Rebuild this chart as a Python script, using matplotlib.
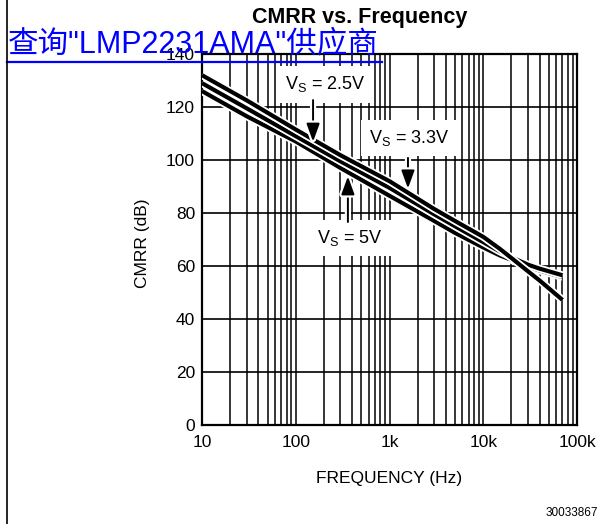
import matplotlib
matplotlib.use("Agg")
import matplotlib.pyplot as plt
import matplotlib.patheffects as pe
from matplotlib.lines import Line2D
from matplotlib.ticker import FixedLocator, NullFormatter
import numpy as np

plt.rcParams['font.family'] = ['Liberation Sans', 'DejaVu Sans']

# CMRR curves (dB) for each supply voltage
freq = [10, 30, 100, 300, 1000, 3000, 5000, 10000, 15000, 20000, 30000, 40000, 70000]
cmrr_33v = [132, 122.5, 111.5, 101.8, 92, 81.5, 77, 71, 66.5, 63, 58, 54.5, 47.2]
cmrr_25v = [129, 119.5, 109, 99.5, 89.5, 79.5, 75, 69, 65.5, 63.3, 60.5, 59, 56.5]
cmrr_5v = [126, 116.5, 107, 97, 86.5, 77, 72.5, 67, 64, 62.3, 59.8, 58.3, 55.8]

x_ticks = [10, 100, 1000, 10000, 100000]
x_ticklabels = ['10', '100', '1k', '10k', '100k']
y_ticks = [0, 20, 40, 60, 80, 100, 120, 140]

fig = plt.figure(figsize=(6.01, 5.24), dpi=100)
ax = fig.add_axes([202 / 601, 1 - 425 / 524, 375 / 601, 371 / 524])

ax.set_xscale('log')
ax.set_xlim(10, 100000)
ax.set_ylim(0, 140)
ax.xaxis.set_major_locator(FixedLocator(x_ticks))
ax.set_xticklabels(x_ticklabels)
minors = [m * 10 ** d for d in range(1, 5) for m in range(2, 10)]
ax.xaxis.set_minor_locator(FixedLocator(minors))
ax.xaxis.set_minor_formatter(NullFormatter())
ax.set_yticks(y_ticks)

ax.grid(True, which='both', axis='x', color='black', lw=1.1)
ax.grid(True, which='major', axis='y', color='black', lw=1.2)
ax.set_axisbelow(True)
ax.tick_params(which='both', length=0, labelsize=12.5)
ax.tick_params(axis='x', pad=7)
ax.tick_params(axis='y', pad=5)
for s in ax.spines.values():
    s.set_linewidth(1.6)

halo = [pe.Stroke(linewidth=5.6, foreground='white'), pe.Normal()]
for vals in (cmrr_5v, cmrr_25v, cmrr_33v):
    ax.plot(freq, vals, color='black', lw=3, zorder=3,
            solid_capstyle='butt', path_effects=halo)

ax.set_ylabel('CMRR (dB)', fontsize=12.5, va='center')
ax.yaxis.set_label_coords(-0.16, 0.49)
ax.set_xlabel('FREQUENCY (Hz)', fontsize=12.5, va='center')
ax.xaxis.set_label_coords(0.5, -0.143)

box = dict(boxstyle='square,pad=0.45', fc='white', ec='none')
labels = [
    (r'V$_\mathregular{S}$ = 2.5V', 205, 128.5, 153, 122.6, cmrr_25v),
    (r'V$_\mathregular{S}$ = 3.3V', 1640, 108.3, 1574, 100.8, cmrr_33v),
    (r'V$_\mathregular{S}$ = 5V', 380, 70.5, 360, 76.6, cmrr_5v),
]
for txt, tx, ty, ax_f, tail_y, curve in labels:
    ax.text(tx, ty, txt, fontsize=13, ha='center', va='center', bbox=box, zorder=4)
    tip = np.interp(np.log10(ax_f), np.log10(freq), curve)
    ax.annotate('', xy=(ax_f, tip), xytext=(ax_f, tail_y), zorder=5,
                arrowprops=dict(arrowstyle='-|>,head_length=0.55,head_width=0.2',
                                mutation_scale=20, color='black', lw=1.4,
                                shrinkA=0, shrinkB=3,
                                path_effects=[pe.withStroke(linewidth=4.5, foreground='white')]))

fig.text(360 / 601, 1 - 18 / 524, 'CMRR vs. Frequency', fontsize=15.5,
         fontweight='bold', ha='center', va='center')
fig.text(8 / 601, 1 - 44 / 524, '查询"LMP2231AMA"供应商', color='#0000ff',
         fontsize=22, ha='left', va='center',
         family=['Liberation Sans', 'Noto Sans CJK SC'])
fig.add_artist(Line2D([7 / 601, 382 / 601], [1 - 62 / 524, 1 - 62 / 524],
                      transform=fig.transFigure, color='#0000ff', lw=1.6))
fig.add_artist(Line2D([6.5 / 601, 6.5 / 601], [0, 1],
                      transform=fig.transFigure, color='black', lw=1.2))
fig.text(598 / 601, 1 - 513 / 524, '30033867', fontsize=8.5, ha='right', va='center')

fig.savefig('out.png', dpi=100)
